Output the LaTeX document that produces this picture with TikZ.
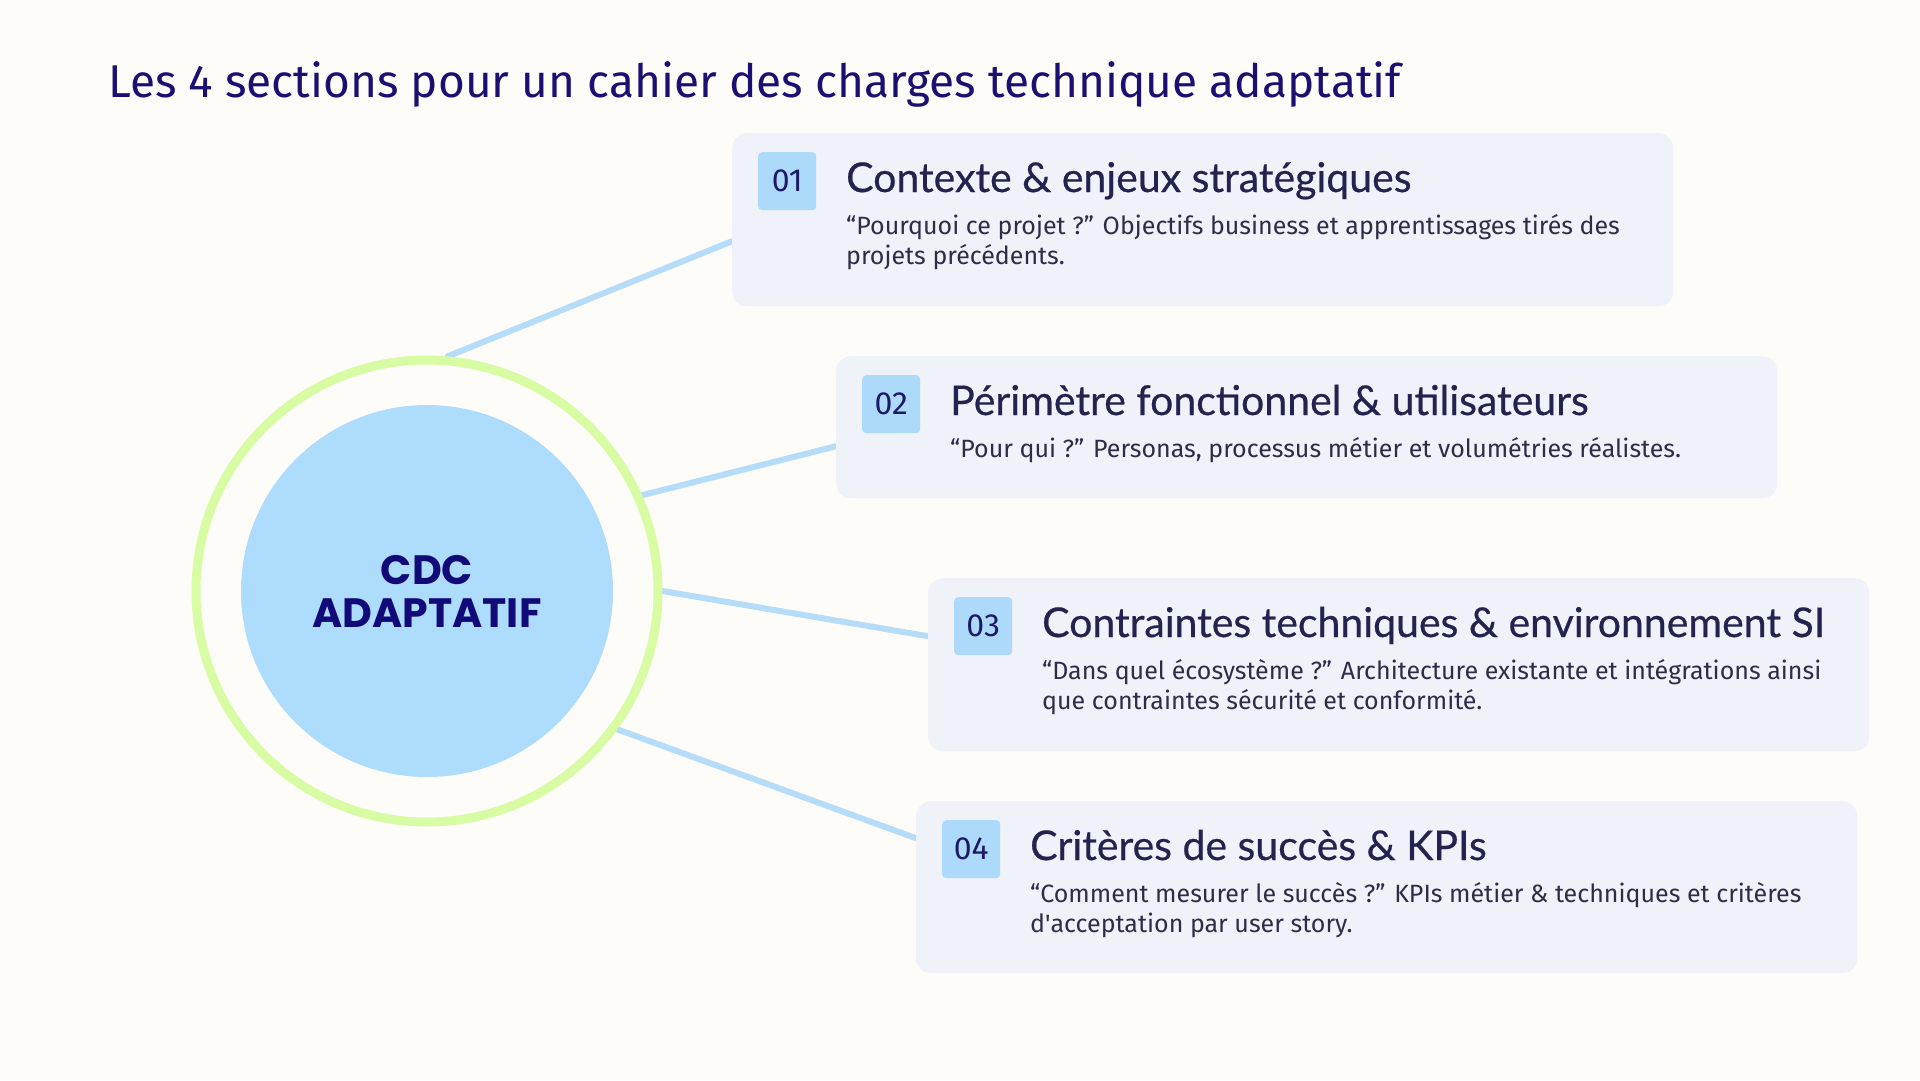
\documentclass[tikz,border=0pt]{standalone}
\usepackage{fontspec}
\setmainfont{Fira Sans}
\newfontfamily\headfont[FakeBold=0.5]{Lato}
\newfontfamily\circfont{Poppins}
\usetikzlibrary{backgrounds,calc}
\definecolor{bgc}{HTML}{FDFCF8}
\definecolor{titlec}{HTML}{1C0F72}
\definecolor{boxc}{HTML}{EFF2F8}
\definecolor{badgec}{HTML}{ADDAFB}
\definecolor{badgetxt}{HTML}{1C1A66}
\definecolor{headc}{HTML}{23234F}
\definecolor{bodyc}{HTML}{2D2D48}
\definecolor{ringc}{HTML}{D7FCA3}
\definecolor{innerc}{HTML}{ADDCFC}
\definecolor{connc}{HTML}{B5DCF8}
\definecolor{cdcc}{HTML}{130A7A}
\begin{document}
\begin{tikzpicture}[x=1pt,y=-1pt,
  sbox/.style={fill=boxc, rounded corners=15pt, anchor=north west, minimum width=941pt, inner sep=0pt},
  badge/.style={fill=badgec, rounded corners=4pt, minimum size=58pt, inner sep=0pt, anchor=north west, font=\fontsize{32}{38}\selectfont, text=badgetxt},
  head/.style={anchor=base west, inner sep=0pt, font=\headfont\fontsize{41}{46}\selectfont, text=headc},
  body/.style={anchor=base west, inner sep=0pt, font=\fontsize{25}{30}\selectfont, text=bodyc},
  conn/.style={draw=connc, line width=6pt, line cap=round}]
\begin{pgfonlayer}{background}
\fill[bgc] (0,0) rectangle (1920,1080);
\end{pgfonlayer}
\useasboundingbox (0,0) rectangle (1920,1080);
% title
\node[anchor=base west, inner sep=0pt, text=titlec, font=\fontsize{46}{54}\selectfont] (title) at (108,97) {Les 4 sections pour un cahier des charges technique adaptatif};
% centre
\node[circle, draw=ringc, line width=9pt, minimum size=462pt, inner sep=0pt] (ring) at (427,591) {};
\node[circle, fill=innerc, minimum size=372pt, inner sep=0pt, align=center, text=cdcc, font=\circfont\bfseries\fontsize{41}{43}\selectfont] (core) at (427,591) {CDC\\ADAPTATIF};
% boxes
\node[sbox, minimum height=173pt] (box1) at (732,133) {};
\node[sbox, minimum height=142pt] (box2) at (836,356) {};
\node[sbox, minimum height=173pt] (box3) at (928,578) {};
\node[sbox, minimum height=172pt] (box4) at (916,801) {};
% box 1
\node[badge] (b1) at ($(box1.north west)+(26,19)$) {01};
\node[head] (h1) at ($(box1.north west)+(114,59)$) {Contexte \& enjeux stratégiques};
\node[body] (t1a) at ($(box1.north west)+(114,101)$) {“Pourquoi ce projet ?” Objectifs business et apprentissages tirés des};
\node[body] (t1b) at ($(box1.north west)+(114,131)$) {projets précédents.};
% box 2
\node[badge] (b2) at ($(box2.north west)+(26,19)$) {02};
\node[head] (h2) at ($(box2.north west)+(114,59)$) {Périmètre fonctionnel \& utilisateurs};
\node[body] (t2a) at ($(box2.north west)+(114,101)$) {“Pour qui ?” Personas, processus métier et volumétries réalistes.};
% box 3
\node[badge] (b3) at ($(box3.north west)+(26,19)$) {03};
\node[head] (h3) at ($(box3.north west)+(114,59)$) {Contraintes techniques \& environnement SI};
\node[body] (t3a) at ($(box3.north west)+(114,101)$) {“Dans quel écosystème ?” Architecture existante et intégrations ainsi};
\node[body] (t3b) at ($(box3.north west)+(114,131)$) {que contraintes sécurité et conformité.};
% box 4
\node[badge] (b4) at ($(box4.north west)+(26,19)$) {04};
\node[head] (h4) at ($(box4.north west)+(114,59)$) {Critères de succès \& KPIs};
\node[body] (t4a) at ($(box4.north west)+(114,101)$) {“Comment mesurer le succès ?” KPIs métier \& techniques et critères};
\node[body] (t4b) at ($(box4.north west)+(114,131)$) {d\textquotesingle acceptation par user story.};
% connectors
\begin{pgfonlayer}{background}
\draw[conn] (ring.85) -- ($(box1.west)+(0,21.5)$);
\draw[conn] (ring.24) -- ($(box2.west)+(0,19)$);
\draw[conn] (ring.0) -- ($(box3.west)+(0,-28.5)$);
\draw[conn] (ring.-36) -- ($(box4.west)+(0,-49)$);
\end{pgfonlayer}
\end{tikzpicture}
\end{document}
